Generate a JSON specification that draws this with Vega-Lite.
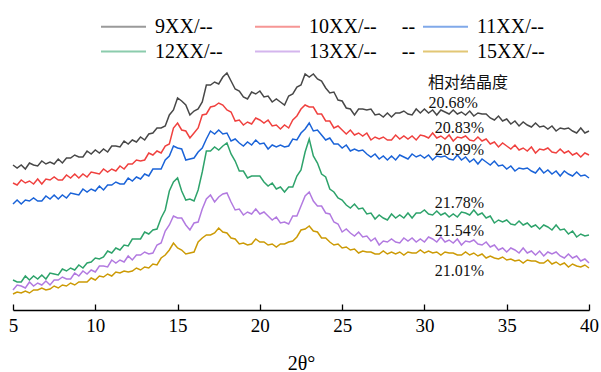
{
"$schema": "https://vega.github.io/schema/vega-lite/v6.json",
"width": 576, "height": 240,
"autosize": {"type": "none"},
"padding": {"left": 13, "top": 70, "right": 12, "bottom": 62},
"config": {"view": {"stroke": null}, "font": "Liberation Serif"},
"datasets": {
"s9": [{"x":5,"y":145},{"x":5.25,"y":142},{"x":5.5,"y":145},{"x":5.75,"y":141},{"x":6,"y":147},{"x":6.25,"y":145},{"x":6.5,"y":144},{"x":6.75,"y":149},{"x":7,"y":146},{"x":7.25,"y":148},{"x":7.5,"y":146},{"x":7.75,"y":151},{"x":8,"y":147},{"x":8.25,"y":152},{"x":8.5,"y":152},{"x":8.75,"y":155},{"x":9,"y":153},{"x":9.25,"y":153},{"x":9.5,"y":159},{"x":9.75,"y":156},{"x":10,"y":160},{"x":10.25,"y":157},{"x":10.5,"y":161},{"x":10.75,"y":158},{"x":11,"y":164},{"x":11.25,"y":164},{"x":11.5,"y":163},{"x":11.75,"y":169},{"x":12,"y":166},{"x":12.25,"y":170},{"x":12.5,"y":168},{"x":12.75,"y":173},{"x":13,"y":170},{"x":13.25,"y":176},{"x":13.5,"y":177},{"x":13.75,"y":182},{"x":14,"y":182},{"x":14.25,"y":184},{"x":14.5,"y":195},{"x":14.75,"y":200},{"x":15,"y":212},{"x":15.25,"y":209},{"x":15.5,"y":205},{"x":15.75,"y":195},{"x":16,"y":199},{"x":16.25,"y":201},{"x":16.5,"y":208},{"x":16.75,"y":225},{"x":17,"y":225},{"x":17.25,"y":228},{"x":17.5,"y":226},{"x":17.75,"y":233},{"x":18,"y":237},{"x":18.25,"y":229},{"x":18.5,"y":221},{"x":18.75,"y":219},{"x":19,"y":213},{"x":19.25,"y":211},{"x":19.5,"y":218},{"x":19.75,"y":216},{"x":20,"y":219},{"x":20.25,"y":213},{"x":20.5,"y":214},{"x":20.75,"y":208},{"x":21,"y":211},{"x":21.25,"y":208},{"x":21.5,"y":205},{"x":21.75,"y":214},{"x":22,"y":216},{"x":22.25,"y":223},{"x":22.5,"y":225},{"x":22.75,"y":236},{"x":23,"y":233},{"x":23.25,"y":236},{"x":23.5,"y":231},{"x":23.75,"y":229},{"x":24,"y":222},{"x":24.25,"y":217},{"x":24.5,"y":218},{"x":24.75,"y":210},{"x":25,"y":209},{"x":25.25,"y":202},{"x":25.5,"y":201},{"x":25.75,"y":195},{"x":26,"y":201},{"x":26.25,"y":201},{"x":26.5,"y":200},{"x":26.75,"y":201},{"x":27,"y":195},{"x":27.25,"y":196},{"x":27.5,"y":193},{"x":27.75,"y":197},{"x":28,"y":193},{"x":28.25,"y":197},{"x":28.5,"y":197},{"x":28.75,"y":199},{"x":29,"y":196},{"x":29.25,"y":195},{"x":29.5,"y":201},{"x":29.75,"y":197},{"x":30,"y":201},{"x":30.25,"y":197},{"x":30.5,"y":200},{"x":30.75,"y":195},{"x":31,"y":200},{"x":31.25,"y":198},{"x":31.5,"y":196},{"x":31.75,"y":200},{"x":32,"y":196},{"x":32.25,"y":198},{"x":32.5,"y":195},{"x":32.75,"y":199},{"x":33,"y":194},{"x":33.25,"y":197},{"x":33.5,"y":196},{"x":33.75,"y":196},{"x":34,"y":192},{"x":34.25,"y":190},{"x":34.5,"y":194},{"x":34.75,"y":189},{"x":35,"y":191},{"x":35.25,"y":186},{"x":35.5,"y":189},{"x":35.75,"y":184},{"x":36,"y":188},{"x":36.25,"y":185},{"x":36.5,"y":183},{"x":36.75,"y":187},{"x":37,"y":183},{"x":37.25,"y":184},{"x":37.5,"y":181},{"x":37.75,"y":184},{"x":38,"y":179},{"x":38.25,"y":182},{"x":38.5,"y":181},{"x":38.75,"y":182},{"x":39,"y":179},{"x":39.25,"y":177},{"x":39.5,"y":182},{"x":39.75,"y":177},{"x":40,"y":179}],
"s10": [{"x":5,"y":127},{"x":5.25,"y":125},{"x":5.5,"y":130},{"x":5.75,"y":127},{"x":6,"y":129},{"x":6.25,"y":126},{"x":6.5,"y":131},{"x":6.75,"y":126},{"x":7,"y":131},{"x":7.25,"y":130},{"x":7.5,"y":133},{"x":7.75,"y":130},{"x":8,"y":130},{"x":8.25,"y":135},{"x":8.5,"y":132},{"x":8.75,"y":136},{"x":9,"y":132},{"x":9.25,"y":136},{"x":9.5,"y":133},{"x":9.75,"y":138},{"x":10,"y":137},{"x":10.25,"y":136},{"x":10.5,"y":141},{"x":10.75,"y":138},{"x":11,"y":141},{"x":11.25,"y":139},{"x":11.5,"y":144},{"x":11.75,"y":141},{"x":12,"y":146},{"x":12.25,"y":146},{"x":12.5,"y":150},{"x":12.75,"y":149},{"x":13,"y":150},{"x":13.25,"y":157},{"x":13.5,"y":155},{"x":13.75,"y":159},{"x":14,"y":157},{"x":14.25,"y":164},{"x":14.5,"y":166},{"x":14.75,"y":182},{"x":15,"y":187},{"x":15.25,"y":180},{"x":15.5,"y":179},{"x":15.75,"y":172},{"x":16,"y":177},{"x":16.25,"y":182},{"x":16.5,"y":195},{"x":16.75,"y":196},{"x":17,"y":203},{"x":17.25,"y":204},{"x":17.5,"y":207},{"x":17.75,"y":205},{"x":18,"y":200},{"x":18.25,"y":198},{"x":18.5,"y":189},{"x":18.75,"y":190},{"x":19,"y":185},{"x":19.25,"y":188},{"x":19.5,"y":186},{"x":19.75,"y":192},{"x":20,"y":190},{"x":20.25,"y":187},{"x":20.5,"y":190},{"x":20.75,"y":184},{"x":21,"y":185},{"x":21.25,"y":181},{"x":21.5,"y":185},{"x":21.75,"y":182},{"x":22,"y":190},{"x":22.25,"y":194},{"x":22.5,"y":201},{"x":22.75,"y":205},{"x":23,"y":203},{"x":23.25,"y":203},{"x":23.5,"y":196},{"x":23.75,"y":196},{"x":24,"y":189},{"x":24.25,"y":189},{"x":24.5,"y":182},{"x":24.75,"y":184},{"x":25,"y":180},{"x":25.25,"y":176},{"x":25.5,"y":180},{"x":25.75,"y":175},{"x":26,"y":177},{"x":26.25,"y":174},{"x":26.5,"y":177},{"x":26.75,"y":170},{"x":27,"y":173},{"x":27.25,"y":171},{"x":27.5,"y":173},{"x":27.75,"y":170},{"x":28,"y":170},{"x":28.25,"y":175},{"x":28.5,"y":171},{"x":28.75,"y":174},{"x":29,"y":171},{"x":29.25,"y":174},{"x":29.5,"y":170},{"x":29.75,"y":175},{"x":30,"y":174},{"x":30.25,"y":172},{"x":30.5,"y":177},{"x":30.75,"y":172},{"x":31,"y":174},{"x":31.25,"y":171},{"x":31.5,"y":175},{"x":31.75,"y":169},{"x":32,"y":173},{"x":32.25,"y":172},{"x":32.5,"y":174},{"x":32.75,"y":170},{"x":33,"y":169},{"x":33.25,"y":173},{"x":33.5,"y":169},{"x":33.75,"y":171},{"x":34,"y":166},{"x":34.25,"y":168},{"x":34.5,"y":163},{"x":34.75,"y":167},{"x":35,"y":164},{"x":35.25,"y":161},{"x":35.5,"y":165},{"x":35.75,"y":160},{"x":36,"y":162},{"x":36.25,"y":159},{"x":36.5,"y":163},{"x":36.75,"y":157},{"x":37,"y":161},{"x":37.25,"y":160},{"x":37.5,"y":162},{"x":37.75,"y":158},{"x":38,"y":157},{"x":38.25,"y":161},{"x":38.5,"y":157},{"x":38.75,"y":159},{"x":39,"y":155},{"x":39.25,"y":157},{"x":39.5,"y":153},{"x":39.75,"y":157},{"x":40,"y":155}],
"s11": [{"x":5,"y":106},{"x":5.25,"y":110},{"x":5.5,"y":106},{"x":5.75,"y":110},{"x":6,"y":109},{"x":6.25,"y":112},{"x":6.5,"y":109},{"x":6.75,"y":109},{"x":7,"y":114},{"x":7.25,"y":111},{"x":7.5,"y":115},{"x":7.75,"y":111},{"x":8,"y":115},{"x":8.25,"y":112},{"x":8.5,"y":117},{"x":8.75,"y":116},{"x":9,"y":115},{"x":9.25,"y":121},{"x":9.5,"y":118},{"x":9.75,"y":121},{"x":10,"y":119},{"x":10.25,"y":124},{"x":10.5,"y":120},{"x":10.75,"y":125},{"x":11,"y":125},{"x":11.25,"y":128},{"x":11.5,"y":126},{"x":11.75,"y":126},{"x":12,"y":132},{"x":12.25,"y":129},{"x":12.5,"y":133},{"x":12.75,"y":131},{"x":13,"y":136},{"x":13.25,"y":134},{"x":13.5,"y":141},{"x":13.75,"y":141},{"x":14,"y":141},{"x":14.25,"y":150},{"x":14.5,"y":154},{"x":14.75,"y":164},{"x":15,"y":162},{"x":15.25,"y":161},{"x":15.5,"y":150},{"x":15.75,"y":151},{"x":16,"y":152},{"x":16.25,"y":158},{"x":16.5,"y":162},{"x":16.75,"y":171},{"x":17,"y":179},{"x":17.25,"y":176},{"x":17.5,"y":180},{"x":17.75,"y":176},{"x":18,"y":177},{"x":18.25,"y":169},{"x":18.5,"y":171},{"x":18.75,"y":167},{"x":19,"y":164},{"x":19.25,"y":168},{"x":19.5,"y":165},{"x":19.75,"y":170},{"x":20,"y":166},{"x":20.25,"y":167},{"x":20.5,"y":161},{"x":20.75,"y":165},{"x":21,"y":163},{"x":21.25,"y":165},{"x":21.5,"y":163},{"x":21.75,"y":164},{"x":22,"y":171},{"x":22.25,"y":170},{"x":22.5,"y":177},{"x":22.75,"y":181},{"x":23,"y":187},{"x":23.25,"y":179},{"x":23.5,"y":180},{"x":23.75,"y":175},{"x":24,"y":170},{"x":24.25,"y":172},{"x":24.5,"y":166},{"x":24.75,"y":166},{"x":25,"y":162},{"x":25.25,"y":165},{"x":25.5,"y":159},{"x":25.75,"y":161},{"x":26,"y":159},{"x":26.25,"y":160},{"x":26.5,"y":156},{"x":26.75,"y":153},{"x":27,"y":156},{"x":27.25,"y":151},{"x":27.5,"y":154},{"x":27.75,"y":150},{"x":28,"y":154},{"x":28.25,"y":150},{"x":28.5,"y":155},{"x":28.75,"y":153},{"x":29,"y":151},{"x":29.25,"y":156},{"x":29.5,"y":153},{"x":29.75,"y":155},{"x":30,"y":152},{"x":30.25,"y":155},{"x":30.5,"y":150},{"x":30.75,"y":154},{"x":31,"y":153},{"x":31.25,"y":154},{"x":31.5,"y":151},{"x":31.75,"y":150},{"x":32,"y":155},{"x":32.25,"y":150},{"x":32.5,"y":153},{"x":32.75,"y":148},{"x":33,"y":151},{"x":33.25,"y":146},{"x":33.5,"y":151},{"x":33.75,"y":148},{"x":34,"y":145},{"x":34.25,"y":149},{"x":34.5,"y":144},{"x":34.75,"y":145},{"x":35,"y":141},{"x":35.25,"y":144},{"x":35.5,"y":139},{"x":35.75,"y":142},{"x":36,"y":141},{"x":36.25,"y":142},{"x":36.5,"y":139},{"x":36.75,"y":137},{"x":37,"y":142},{"x":37.25,"y":137},{"x":37.5,"y":140},{"x":37.75,"y":136},{"x":38,"y":139},{"x":38.25,"y":134},{"x":38.5,"y":139},{"x":38.75,"y":136},{"x":39,"y":134},{"x":39.25,"y":138},{"x":39.5,"y":134},{"x":39.75,"y":135},{"x":40,"y":132}],
"s12": [{"x":5,"y":30},{"x":5.25,"y":28},{"x":5.5,"y":28},{"x":5.75,"y":34},{"x":6,"y":30},{"x":6.25,"y":34},{"x":6.5,"y":31},{"x":6.75,"y":35},{"x":7,"y":31},{"x":7.25,"y":37},{"x":7.5,"y":36},{"x":7.75,"y":35},{"x":8,"y":41},{"x":8.25,"y":39},{"x":8.5,"y":42},{"x":8.75,"y":40},{"x":9,"y":45},{"x":9.25,"y":42},{"x":9.5,"y":47},{"x":9.75,"y":48},{"x":10,"y":52},{"x":10.25,"y":51},{"x":10.5,"y":53},{"x":10.75,"y":59},{"x":11,"y":57},{"x":11.25,"y":62},{"x":11.5,"y":60},{"x":11.75,"y":65},{"x":12,"y":64},{"x":12.25,"y":71},{"x":12.5,"y":71},{"x":12.75,"y":71},{"x":13,"y":78},{"x":13.25,"y":76},{"x":13.5,"y":80},{"x":13.75,"y":81},{"x":14,"y":92},{"x":14.25,"y":100},{"x":14.5,"y":119},{"x":14.75,"y":128},{"x":15,"y":132},{"x":15.25,"y":119},{"x":15.5,"y":110},{"x":15.75,"y":111},{"x":16,"y":109},{"x":16.25,"y":120},{"x":16.5,"y":138},{"x":16.75,"y":159},{"x":17,"y":159},{"x":17.25,"y":163},{"x":17.5,"y":160},{"x":17.75,"y":164},{"x":18,"y":167},{"x":18.25,"y":156},{"x":18.5,"y":149},{"x":18.75,"y":139},{"x":19,"y":139},{"x":19.25,"y":132},{"x":19.5,"y":134},{"x":19.75,"y":134},{"x":20,"y":134},{"x":20.25,"y":128},{"x":20.5,"y":124},{"x":20.75,"y":127},{"x":21,"y":121},{"x":21.25,"y":123},{"x":21.5,"y":118},{"x":21.75,"y":123},{"x":22,"y":123},{"x":22.25,"y":134},{"x":22.5,"y":140},{"x":22.75,"y":158},{"x":23,"y":171},{"x":23.25,"y":154},{"x":23.5,"y":147},{"x":23.75,"y":136},{"x":24,"y":133},{"x":24.25,"y":121},{"x":24.5,"y":118},{"x":24.75,"y":112},{"x":25,"y":110},{"x":25.25,"y":105},{"x":25.5,"y":102},{"x":25.75,"y":106},{"x":26,"y":101},{"x":26.25,"y":102},{"x":26.5,"y":96},{"x":26.75,"y":97},{"x":27,"y":91},{"x":27.25,"y":95},{"x":27.5,"y":92},{"x":27.75,"y":90},{"x":28,"y":96},{"x":28.25,"y":92},{"x":28.5,"y":95},{"x":28.75,"y":92},{"x":29,"y":97},{"x":29.25,"y":92},{"x":29.5,"y":97},{"x":29.75,"y":97},{"x":30,"y":100},{"x":30.25,"y":96},{"x":30.5,"y":95},{"x":30.75,"y":99},{"x":31,"y":95},{"x":31.25,"y":97},{"x":31.5,"y":93},{"x":31.75,"y":96},{"x":32,"y":93},{"x":32.25,"y":98},{"x":32.5,"y":97},{"x":32.75,"y":95},{"x":33,"y":100},{"x":33.25,"y":95},{"x":33.5,"y":97},{"x":33.75,"y":92},{"x":34,"y":94},{"x":34.25,"y":87},{"x":34.5,"y":90},{"x":34.75,"y":88},{"x":35,"y":90},{"x":35.25,"y":86},{"x":35.5,"y":85},{"x":35.75,"y":89},{"x":36,"y":85},{"x":36.25,"y":87},{"x":36.5,"y":83},{"x":36.75,"y":85},{"x":37,"y":81},{"x":37.25,"y":85},{"x":37.5,"y":83},{"x":37.75,"y":80},{"x":38,"y":85},{"x":38.25,"y":80},{"x":38.5,"y":81},{"x":38.75,"y":76},{"x":39,"y":79},{"x":39.25,"y":73},{"x":39.5,"y":76},{"x":39.75,"y":74},{"x":40,"y":75}],
"s13": [{"x":5,"y":20},{"x":5.25,"y":25},{"x":5.5,"y":24},{"x":5.75,"y":22},{"x":6,"y":28},{"x":6.25,"y":24},{"x":6.5,"y":27},{"x":6.75,"y":25},{"x":7,"y":29},{"x":7.25,"y":25},{"x":7.5,"y":30},{"x":7.75,"y":30},{"x":8,"y":33},{"x":8.25,"y":31},{"x":8.5,"y":31},{"x":8.75,"y":37},{"x":9,"y":34},{"x":9.25,"y":39},{"x":9.5,"y":36},{"x":9.75,"y":40},{"x":10,"y":38},{"x":10.25,"y":44},{"x":10.5,"y":44},{"x":10.75,"y":43},{"x":11,"y":50},{"x":11.25,"y":47},{"x":11.5,"y":50},{"x":11.75,"y":48},{"x":12,"y":54},{"x":12.25,"y":50},{"x":12.5,"y":55},{"x":12.75,"y":55},{"x":13,"y":58},{"x":13.25,"y":56},{"x":13.5,"y":57},{"x":13.75,"y":65},{"x":14,"y":67},{"x":14.25,"y":79},{"x":14.5,"y":85},{"x":14.75,"y":94},{"x":15,"y":92},{"x":15.25,"y":92},{"x":15.5,"y":85},{"x":15.75,"y":80},{"x":16,"y":87},{"x":16.25,"y":88},{"x":16.5,"y":101},{"x":16.75,"y":111},{"x":17,"y":115},{"x":17.25,"y":108},{"x":17.5,"y":113},{"x":17.75,"y":116},{"x":18,"y":117},{"x":18.25,"y":108},{"x":18.5,"y":100},{"x":18.75,"y":101},{"x":19,"y":95},{"x":19.25,"y":98},{"x":19.5,"y":96},{"x":19.75,"y":101},{"x":20,"y":96},{"x":20.25,"y":98},{"x":20.5,"y":94},{"x":20.75,"y":90},{"x":21,"y":93},{"x":21.25,"y":87},{"x":21.5,"y":88},{"x":21.75,"y":86},{"x":22,"y":94},{"x":22.25,"y":94},{"x":22.5,"y":104},{"x":22.75,"y":114},{"x":23,"y":118},{"x":23.25,"y":109},{"x":23.5,"y":104},{"x":23.75,"y":104},{"x":24,"y":97},{"x":24.25,"y":96},{"x":24.5,"y":88},{"x":24.75,"y":86},{"x":25,"y":78},{"x":25.25,"y":81},{"x":25.5,"y":77},{"x":25.75,"y":74},{"x":26,"y":78},{"x":26.25,"y":73},{"x":26.5,"y":74},{"x":26.75,"y":69},{"x":27,"y":72},{"x":27.25,"y":65},{"x":27.5,"y":69},{"x":27.75,"y":68},{"x":28,"y":71},{"x":28.25,"y":68},{"x":28.5,"y":67},{"x":28.75,"y":72},{"x":29,"y":69},{"x":29.25,"y":72},{"x":29.5,"y":68},{"x":29.75,"y":71},{"x":30,"y":68},{"x":30.25,"y":73},{"x":30.5,"y":71},{"x":30.75,"y":68},{"x":31,"y":73},{"x":31.25,"y":68},{"x":31.5,"y":70},{"x":31.75,"y":67},{"x":32,"y":71},{"x":32.25,"y":65},{"x":32.5,"y":69},{"x":32.75,"y":68},{"x":33,"y":70},{"x":33.25,"y":66},{"x":33.5,"y":65},{"x":33.75,"y":68},{"x":34,"y":63},{"x":34.25,"y":65},{"x":34.5,"y":60},{"x":34.75,"y":62},{"x":35,"y":58},{"x":35.25,"y":62},{"x":35.5,"y":60},{"x":35.75,"y":57},{"x":36,"y":62},{"x":36.25,"y":57},{"x":36.5,"y":59},{"x":36.75,"y":55},{"x":37,"y":59},{"x":37.25,"y":54},{"x":37.5,"y":58},{"x":37.75,"y":56},{"x":38,"y":58},{"x":38.25,"y":54},{"x":38.5,"y":52},{"x":38.75,"y":56},{"x":39,"y":52},{"x":39.25,"y":54},{"x":39.5,"y":49},{"x":39.75,"y":51},{"x":40,"y":47}],
"s15": [{"x":5,"y":16},{"x":5.25,"y":18},{"x":5.5,"y":17},{"x":5.75,"y":19},{"x":6,"y":17},{"x":6.25,"y":20},{"x":6.5,"y":20},{"x":6.75,"y":22},{"x":7,"y":20},{"x":7.25,"y":21},{"x":7.5,"y":24},{"x":7.75,"y":22},{"x":8,"y":25},{"x":8.25,"y":24},{"x":8.5,"y":27},{"x":8.75,"y":25},{"x":9,"y":28},{"x":9.25,"y":28},{"x":9.5,"y":28},{"x":9.75,"y":32},{"x":10,"y":30},{"x":10.25,"y":34},{"x":10.5,"y":33},{"x":10.75,"y":36},{"x":11,"y":34},{"x":11.25,"y":38},{"x":11.5,"y":37},{"x":11.75,"y":39},{"x":12,"y":38},{"x":12.25,"y":39},{"x":12.5,"y":42},{"x":12.75,"y":40},{"x":13,"y":43},{"x":13.25,"y":42},{"x":13.5,"y":46},{"x":13.75,"y":45},{"x":14,"y":52},{"x":14.25,"y":55},{"x":14.5,"y":60},{"x":14.75,"y":67},{"x":15,"y":62},{"x":15.25,"y":60},{"x":15.5,"y":56},{"x":15.75,"y":57},{"x":16,"y":58},{"x":16.25,"y":68},{"x":16.5,"y":72},{"x":16.75,"y":75},{"x":17,"y":75},{"x":17.25,"y":77},{"x":17.5,"y":82},{"x":17.75,"y":78},{"x":18,"y":77},{"x":18.25,"y":72},{"x":18.5,"y":71},{"x":18.75,"y":66},{"x":19,"y":67},{"x":19.25,"y":65},{"x":19.5,"y":66},{"x":19.75,"y":71},{"x":20,"y":68},{"x":20.25,"y":68},{"x":20.5,"y":65},{"x":20.75,"y":66},{"x":21,"y":63},{"x":21.25,"y":66},{"x":21.5,"y":66},{"x":21.75,"y":68},{"x":22,"y":69},{"x":22.25,"y":73},{"x":22.5,"y":80},{"x":22.75,"y":81},{"x":23,"y":84},{"x":23.25,"y":79},{"x":23.5,"y":78},{"x":23.75,"y":72},{"x":24,"y":72},{"x":24.25,"y":68},{"x":24.5,"y":65},{"x":24.75,"y":66},{"x":25,"y":62},{"x":25.25,"y":63},{"x":25.5,"y":60},{"x":25.75,"y":61},{"x":26,"y":57},{"x":26.25,"y":59},{"x":26.5,"y":58},{"x":26.75,"y":58},{"x":27,"y":56},{"x":27.25,"y":56},{"x":27.5,"y":59},{"x":27.75,"y":56},{"x":28,"y":58},{"x":28.25,"y":56},{"x":28.5,"y":58},{"x":28.75,"y":55},{"x":29,"y":58},{"x":29.25,"y":57},{"x":29.5,"y":57},{"x":29.75,"y":60},{"x":30,"y":57},{"x":30.25,"y":59},{"x":30.5,"y":57},{"x":30.75,"y":58},{"x":31,"y":55},{"x":31.25,"y":58},{"x":31.5,"y":57},{"x":31.75,"y":57},{"x":32,"y":55},{"x":32.25,"y":55},{"x":32.5,"y":58},{"x":32.75,"y":55},{"x":33,"y":57},{"x":33.25,"y":54},{"x":33.5,"y":56},{"x":33.75,"y":52},{"x":34,"y":54},{"x":34.25,"y":52},{"x":34.5,"y":51},{"x":34.75,"y":53},{"x":35,"y":50},{"x":35.25,"y":51},{"x":35.5,"y":49},{"x":35.75,"y":50},{"x":36,"y":47},{"x":36.25,"y":50},{"x":36.5,"y":49},{"x":36.75,"y":49},{"x":37,"y":47},{"x":37.25,"y":47},{"x":37.5,"y":50},{"x":37.75,"y":46},{"x":38,"y":48},{"x":38.25,"y":45},{"x":38.5,"y":47},{"x":38.75,"y":43},{"x":39,"y":46},{"x":39.25,"y":44},{"x":39.5,"y":43},{"x":39.75,"y":45},{"x":40,"y":42}],
"labels": [{"t":"相对结晶度","x":32.65,"y":227},{"t":"20.68%","x":31.74,"y":207},{"t":"20.83%","x":32.13,"y":182},{"t":"20.99%","x":32.13,"y":160},{"t":"21.78%","x":32.13,"y":107},{"t":"21.54%","x":32.13,"y":79},{"t":"21.01%","x":32.13,"y":39}]
},
"encoding": {
"x": {"field": "x", "type": "quantitative", "scale": {"domain": [5, 40], "nice": false, "zero": false},
"axis": {"title": "2θ°", "values": [5, 10, 15, 20, 25, 30, 35, 40], "grid": false, "domainColor": "#000", "domainWidth": 1.3, "tickColor": "#000", "tickWidth": 1.3, "tickSize": -6, "labelFont": "Liberation Serif", "labelFontSize": 19, "labelColor": "#000", "labelPadding": 12, "labelFlush": false, "titleFont": "Liberation Serif", "titleFontSize": 20, "titleFontWeight": "normal", "titleColor": "#000", "titlePadding": 18}},
"y": {"field": "y", "type": "quantitative", "scale": {"domain": [0, 240]}, "axis": null}
},
"layer": [
{"data": {"name": "s9"}, "mark": {"type": "line", "strokeWidth": 1.5},
"encoding": {"color": {"datum": "9XX/--", "type": "nominal",
"scale": {"domain": ["9XX/--", "10XX/--", "11XX/--", "12XX/--", "13XX/--", "15XX/--"], "range": ["#484848", "#f0413f", "#1a63d8", "#2ea36b", "#b27ae0", "#cc9a05"]},
"legend": {"title": null, "orient": "none", "legendX": 98, "legendY": -56, "direction": "horizontal", "columns": 3, "columnPadding": 3, "rowPadding": 2, "padding": 0, "symbolType": "M-2,0H2", "symbolSize": 506, "symbolStrokeWidth": 2, "symbolOpacity": 0.55, "symbolFillColor": "transparent", "labelFont": "Liberation Serif", "labelFontSize": 20, "labelColor": "#000", "labelOffset": 19, "labelLimit": 400,
"labelExpr": "(datum.label == '9XX/--' || datum.label == '12XX/--') ? datum.label + '\u00a0\u00a0\u00a0\u00a0\u00a0\u200c' : ((datum.label == '10XX/--' || datum.label == '13XX/--') ? datum.label + '\u00a0\u00a0\u00a0\u00a0\u00a0--' : datum.label)"}}}},
{"data": {"name": "s10"}, "mark": {"type": "line", "strokeWidth": 1.5}, "encoding": {"color": {"datum": "10XX/--", "type": "nominal"}}},
{"data": {"name": "s11"}, "mark": {"type": "line", "strokeWidth": 1.5}, "encoding": {"color": {"datum": "11XX/--", "type": "nominal"}}},
{"data": {"name": "s12"}, "mark": {"type": "line", "strokeWidth": 1.5}, "encoding": {"color": {"datum": "12XX/--", "type": "nominal"}}},
{"data": {"name": "s13"}, "mark": {"type": "line", "strokeWidth": 1.5}, "encoding": {"color": {"datum": "13XX/--", "type": "nominal"}}},
{"data": {"name": "s15"}, "mark": {"type": "line", "strokeWidth": 1.5}, "encoding": {"color": {"datum": "15XX/--", "type": "nominal"}}},
{"data": {"name": "labels"}, "mark": {"type": "text", "font": "Liberation Serif, Noto Sans CJK SC", "fontSize": 16, "color": "#111", "align": "center", "baseline": "middle"},
"encoding": {"text": {"field": "t", "type": "nominal"}}}
]
}
